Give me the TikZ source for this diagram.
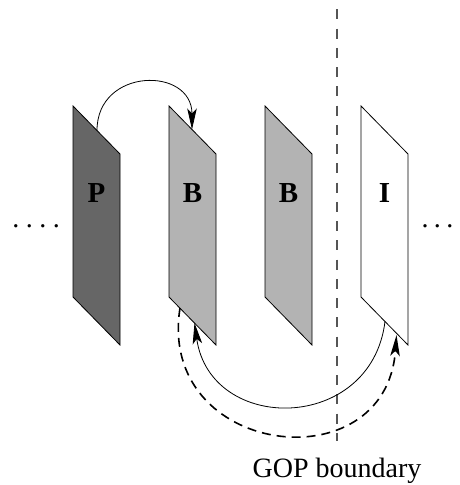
\documentclass[tikz,border=0pt]{standalone}
\usepackage{fontspec}
\setmainfont{Liberation Serif}
\usetikzlibrary{arrows.meta}
\definecolor{pfill}{RGB}{102,102,102}
\definecolor{bfill}{RGB}{179,179,179}
\definecolor{gopline}{RGB}{85,85,85}
\begin{document}
\begin{tikzpicture}[x=1pt,y=1pt,
  frame/.style={draw=black, line width=0.8pt, line join=miter},
  lbl/.style={font=\fontsize{29}{33}\selectfont\bfseries, inner sep=0pt},
  dotsstyle/.style={font=\fontsize{28}{32}\selectfont, inner sep=0pt, anchor=base},
  arr/.style={-{Stealth[length=21pt,width=9.5pt,inset=5pt]}, line width=0.8pt},
  dasharr/.style={arr, line width=1.6pt, dash pattern=on 9pt off 6pt},
  gopstyle/.style={draw=gopline, line width=1.1pt, dash pattern=on 10pt off 9.25pt},
]
\path[use as bounding box, fill=white] (0,0) rectangle (459,-485);

% frames
\foreach \x/\c/\n in {73/pfill/fp, 169/bfill/fb1, 265/bfill/fb2, 361/white/fi} {
  \draw[frame, fill=\c] (\x,-106) coordinate (\n-tl) -- ++(47,-48) coordinate (\n-tr)
     -- ++(0,-191) coordinate (\n-br) -- ++(-47,48) coordinate (\n-bl) -- cycle;
}

% labels
\node[lbl] (P)  at (96.5,-193.5) {P};
\node[lbl] (B1) at (192.5,-193.5) {B};
\node[lbl] (B2) at (288.5,-193.5) {B};
\node[lbl] (I)  at (384.5,-193.5) {I};

% ellipses
\node[dotsstyle] (ldots) at (36.25,-227.5) {.\kern6.5pt.\kern6.5pt.\kern6.5pt.};
\node[dotsstyle] (rdots) at (437.5,-227.5) {.\kern5.5pt.\kern5.5pt.};

% GOP boundary
\coordinate (gtop) at (337,-9.3);
\node[font=\fontsize{28}{32}\selectfont, inner sep=0pt, anchor=base] (gop) at (337,-477) {GOP boundary};
\coordinate (gbot) at (337,-441);
\draw[gopstyle] (gtop) -- (gbot);

% arcs
\coordinate (s1) at (97,-130.5);
\coordinate (e1) at (192,-129.5);
\draw[arr] (s1) to[out=90,in=90,looseness=1.7] (e1);

\coordinate (s2) at (385,-321.5);
\coordinate (e2) at (194.5,-323);
\draw[arr] (s2) to[out=-97,in=-82,looseness=1.51] (e2);

\coordinate (s3) at (180,-308);
\coordinate (e3) at (396.5,-335);
\draw[dasharr] (s3) to[out=261,in=266,looseness=1.77] (e3);
\end{tikzpicture}
\end{document}
